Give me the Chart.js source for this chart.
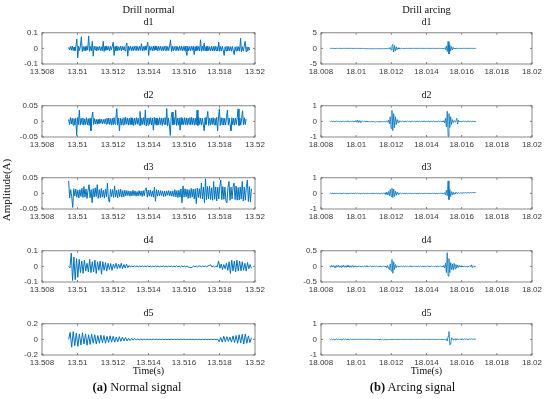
<!DOCTYPE html>
<html>
<head>
<meta charset="utf-8">
<script src="https://cdn.jsdelivr.net/npm/chart.js@4.4.1/dist/chart.umd.min.js"></script>
<style>
  body { margin: 0; width: 550px; height: 399px; background: #fff; position: relative; overflow: hidden; }
  canvas { position: absolute; }
  .txt { position: absolute; font-family: "Liberation Serif", "Times New Roman", serif; font-weight: 400; color: #111; text-align: center; white-space: nowrap; }
</style>
</head>
<body>
<script>
// time axes
const normalTicksX = [13.508, 13.51, 13.512, 13.514, 13.516, 13.518, 13.52];
const arcingTicksX = [18.008, 18.01, 18.012, 18.014, 18.016, 18.018, 18.02];
const normalYTicks = [[-0.1, 0, 0.1], [-0.05, 0, 0.05], [-0.05, 0, 0.05], [-0.1, 0, 0.1], [-0.2, 0, 0.2]];
const arcingYTicks = [[-5, 0, 5], [-1, 0, 1], [-1, 0, 1], [-0.5, 0, 0.5], [-1, 0, 1]];
const panelNames = ['d1', 'd2', 'd3', 'd4', 'd5'];

// record start / end times
const normalStart = 13.5095;
const normalEnd = [13.5197, 13.5195, 13.5198, 13.5198, 13.5198];
const arcingStart = 18.0085;
const arcingEnd = [18.0168, 18.0168, 18.0168, 18.0168, 18.0168];

// Drill normal, detail levels d1..d5 (A)
const normalD1 = [
  0.006,-0.01,0.013,-0.012,0.015,-0.014,0.009,-0.015,0.013,0.06,
  -0.06,0.014,-0.013,0.016,0.075,-0.02,0.013,-0.015,0.011,-0.014,
  0.016,-0.011,0.08,-0.018,0.012,-0.016,0.045,-0.05,0.014,-0.01,
  0.013,-0.016,0.011,-0.012,0.015,-0.014,0.01,-0.015,0.045,-0.02,
  0.014,-0.012,0.016,-0.011,0.012,-0.017,0.015,-0.01,0.013,0.04,
  -0.045,0.012,-0.014,0.016,-0.015,0.011,-0.012,0.015,-0.016,0.013,
  -0.011,0.012,-0.015,0.016,0.035,-0.05,0.014,-0.012,0.015,-0.014,
  0.011,-0.016,0.014,-0.011,0.016,-0.014,0.012,-0.015,0.014,-0.012,
  0.03,-0.016,0.012,-0.014,0.015,-0.011,0.014,0.04,-0.045,0.016,
  -0.012,0.011,-0.015,0.014,-0.014,0.016,-0.011,0.012,-0.016,0.014,
  -0.012,0.015,-0.014,0.011,-0.016,0.014,-0.012,0.016,-0.015,0.012,
  -0.014,0.015,0.055,-0.02,0.014,-0.016,0.012,-0.011,0.015,-0.014,
  0.011,-0.015,0.016,-0.012,0.014,-0.016,0.012,-0.014,0.015,-0.017,
  -0.045,0.014,-0.015,0.012,-0.016,0.014,-0.012,0.015,-0.04,0.011,
  -0.015,0.016,-0.014,0.012,-0.016,0.055,-0.018,0.014,-0.015,0.035,
  -0.016,0.012,-0.017,0.015,-0.014,0.011,-0.016,0.014,-0.015,0.012,
  -0.017,0.015,-0.014,0.011,-0.016,0.04,-0.018,0.012,-0.016,0.014,
  -0.015,-0.045,0.011,-0.016,0.014,-0.017,0.012,-0.015,0.011,-0.018,
  0.013,-0.016,-0.04,0.01,-0.017,0.012,-0.015,0.011,-0.018,0.065,
  -0.02,0.011,-0.017,0.012,0.045,-0.02,0.01,-0.016,0.009,-0.012
];
const normalD2 = [
  0.006,-0.01,0.012,-0.008,0.01,-0.012,0.009,-0.011,0.01,-0.045,
  0.012,-0.01,0.036,-0.012,0.01,-0.009,0.011,-0.012,0.008,-0.01,
  0.012,-0.011,0.009,-0.013,0.01,-0.03,0.012,0.03,-0.01,0.009,
  -0.008,0.007,-0.009,0.006,-0.007,0.008,-0.006,0.007,-0.008,0.006,
  -0.007,0.008,-0.009,0.01,-0.008,0.011,-0.01,0.009,-0.012,0.01,
  -0.011,0.012,-0.009,0.01,0.041,-0.012,0.011,-0.03,0.01,-0.012,
  0.009,-0.011,0.012,-0.01,0.013,-0.009,0.011,-0.012,0.01,-0.011,
  0.012,-0.01,0.009,-0.013,0.011,-0.01,0.012,-0.009,0.01,-0.012,
  0.032,-0.013,0.011,-0.01,0.012,-0.011,0.036,-0.014,0.01,-0.012,
  0.011,-0.009,0.012,-0.011,0.01,-0.028,0.013,-0.01,0.011,-0.012,
  0.009,-0.011,0.012,-0.01,0.011,-0.013,0.01,-0.009,0.012,-0.011,
  0.041,-0.015,0.011,-0.012,-0.045,0.013,0.03,-0.011,0.012,-0.01,
  0.036,-0.013,0.01,-0.012,0.011,-0.028,0.012,-0.01,0.009,-0.011,
  0.012,-0.01,0.011,-0.012,0.01,-0.009,0.012,-0.011,0.013,-0.01,
  0.011,-0.012,0.01,-0.011,0.036,-0.013,0.012,-0.01,0.011,-0.012,
  0.01,-0.011,-0.03,0.012,-0.01,0.011,0.032,-0.013,0.01,-0.012,
  0.011,-0.01,0.012,-0.011,0.01,-0.012,0.013,-0.03,0.011,0.04,
  -0.013,0.012,-0.01,0.011,-0.012,0.01,-0.011,0.012,0.036,-0.012,
  0.011,-0.01,-0.03,0.012,-0.011,0.01,-0.012,0.011,-0.01,0.012,
  0.04,-0.013,0.011,-0.012,0.01,0.034,-0.011,0.012,-0.01,0.008
];
const normalD3 = [
  0.04,-0.015,0.012,-0.01,-0.045,0.015,-0.008,0.014,-0.012,0.01,
  -0.015,0.012,-0.01,0.016,-0.013,0.022,-0.012,0.014,-0.016,0.01,
  0.028,-0.014,0.012,-0.03,0.015,-0.012,0.018,-0.01,0.028,-0.016,
  0.012,-0.014,0.016,-0.012,0.01,-0.015,0.013,-0.011,0.033,-0.02,
  -0.028,0.014,-0.01,0.012,-0.013,0.024,-0.012,0.01,-0.014,0.012,
  -0.01,0.013,-0.012,0.009,-0.011,0.01,-0.008,0.009,-0.007,0.008,
  -0.009,0.007,-0.008,0.01,-0.007,0.008,-0.009,0.006,-0.008,0.009,
  -0.007,0.008,-0.01,0.009,-0.008,0.012,0.018,-0.012,0.01,-0.009,
  0.011,-0.01,0.008,-0.012,0.02,-0.025,0.012,-0.009,0.01,-0.008,
  0.009,-0.007,0.008,-0.01,0.007,-0.009,0.008,-0.006,0.009,-0.008,
  0.007,-0.009,0.008,-0.01,0.012,-0.011,0.009,-0.013,0.01,-0.012,
  0.014,-0.03,0.024,-0.012,0.015,-0.011,0.013,-0.016,0.012,-0.014,
  0.016,-0.012,0.014,-0.018,0.015,-0.033,0.017,-0.013,0.015,-0.016,
  0.033,-0.018,0.02,-0.03,0.047,-0.02,0.022,-0.018,0.024,-0.02,
  0.018,-0.022,0.038,-0.019,0.021,-0.024,0.02,-0.018,0.023,0.043,
  -0.02,0.022,-0.019,0.02,-0.024,-0.03,0.018,0.038,-0.022,0.02,
  -0.018,0.021,0.033,-0.02,0.024,-0.022,0.019,-0.021,0.02,-0.018,
  0.038,-0.024,0.02,-0.022,0.019,0.043,-0.026,0.022,-0.028,0.015
];
const normalD4 = [
  0,-0.01,0.085,-0.09,0.06,-0.085,0.05,-0.07,0.045,-0.04,
  0.035,-0.045,0.04,-0.03,0.02,-0.035,0.045,-0.04,0.03,-0.035,
  0.04,-0.045,0.03,-0.025,0.035,-0.05,0.03,-0.025,0.025,-0.03,
  0.02,-0.02,0.018,-0.025,0.015,-0.012,0.02,-0.015,0.015,-0.012,
  0.02,-0.015,0.012,-0.01,0.015,-0.008,0.006,-0.004,0.003,-0.003,
  0.004,-0.002,0.003,-0.003,0.002,-0.003,0.004,-0.002,0.003,-0.004,
  0.005,-0.004,0.003,-0.003,0.002,-0.002,0.003,-0.002,0.002,-0.003,
  0.002,-0.002,0.003,-0.002,0.002,-0.003,0.002,-0.002,0.003,-0.002,
  0.002,-0.003,0.004,-0.002,0.002,-0.004,0.003,-0.002,0.002,-0.003,
  0.003,-0.004,-0.006,-0.008,-0.005,0.003,-0.002,0.002,-0.004,0.003,
  0.002,-0.002,0.003,-0.002,0.002,-0.003,0.004,0.006,0.01,-0.004,
  0.003,-0.005,0.004,-0.003,0.035,-0.012,0.015,-0.02,0.012,-0.015,
  0.02,-0.025,0.03,-0.045,0.04,-0.03,0.035,-0.035,0.04,-0.03,
  0.035,-0.028,0.03,-0.025,0.02,-0.03,0.025,-0.015,0.012,-0.012
];
const normalD5 = [
  0,0.09,-0.1,0.1,-0.08,0.08,-0.09,0.07,-0.07,0.085,
  -0.06,0.07,-0.075,0.06,-0.065,0.07,-0.05,0.06,-0.06,0.05,
  -0.05,0.055,-0.045,0.05,-0.05,0.04,-0.04,0.045,-0.035,0.04,
  -0.035,0.03,-0.03,0.035,-0.025,0.03,-0.02,0.025,-0.02,0.015,
  -0.015,0.012,-0.01,0.012,-0.008,0.006,-0.006,0.005,-0.004,0.004,
  -0.003,0.004,-0.003,0.003,-0.004,0.003,-0.002,0.003,-0.003,0.002,
  -0.002,0.003,-0.002,0.002,-0.003,0.002,-0.002,0.003,-0.002,0.002,
  -0.002,0.002,-0.003,0.002,-0.002,0.003,-0.002,0.002,-0.002,0.003,
  -0.002,0.002,-0.003,0.002,-0.002,0.002,-0.003,0.002,-0.002,0.003,
  -0.002,0.002,-0.002,0.003,-0.002,0.002,-0.004,0.003,-0.03,0.025,
  -0.035,0.04,-0.03,0.035,-0.025,0.03,-0.035,0.045,-0.04,0.05,
  -0.05,0.06,-0.045,0.065,-0.06,0.07,-0.05,0.045,-0.04,0.02
];

// Drill arcing, detail levels d1..d5 (A)
const arcingD1 = [
  0.02,-0.02,0.03,-0.01,0.02,-0.03,0.01,-0.02,0.03,-0.02,
  0.02,-0.01,0.03,-0.02,0.01,-0.03,0.02,-0.01,0.02,-0.02,
  0.01,-0.02,0.03,-0.01,0.02,-0.02,0.01,-0.03,0.02,-0.01,
  0.03,-0.04,0.02,-0.03,0.01,-0.02,0.02,-0.03,0.01,-0.02,
  -0.05,-0.08,-0.06,-0.1,-0.08,-0.12,-0.09,-0.11,-0.1,-0.12,
  -0.09,-0.11,-0.1,-0.12,-0.09,-0.1,-0.11,-0.08,-0.1,-0.12,
  -0.09,-0.1,-0.08,-0.06,-0.05,-0.08,-0.04,-0.1,0.1,-0.2,
  0.3,-0.5,0.8,1.3,-1.2,0.9,-0.8,0.5,-0.4,0.2,
  -0.2,0.1,-0.1,0.05,-0.05,0.03,-0.03,0.02,-0.02,0.03,
  -0.02,0.02,-0.03,0.01,-0.02,0.02,-0.01,0.03,-0.02,0.01,
  -0.02,0.02,-0.01,0.02,-0.03,0.01,-0.02,0.02,-0.01,0.03,
  -0.02,0.01,-0.02,0.02,-0.01,0.02,-0.02,0.01,-0.03,0.02,
  -0.01,0.02,-0.02,0.01,-0.02,0.03,-0.01,0.02,-0.02,0.01,
  -0.03,0.05,-0.1,0.2,-0.4,0.8,-1.0,2.2,-1.8,1.2,
  -0.9,0.6,-0.5,0.3,-0.2,0.1,-0.1,0.05,-0.05,0.03,
  -0.02,0.02,-0.03,0.01,-0.02,0.02,-0.01,0.03,-0.02,0.01,
  -0.02,0.02,-0.01,0.02,-0.02,0.01,-0.02,0.02,-0.01,0
];
const arcingD2 = [
  0.01,-0.01,0.02,-0.01,0.01,-0.02,0.01,-0.01,0.02,-0.01,
  0.01,-0.02,0.01,-0.01,0.02,-0.01,0.01,-0.02,0.01,-0.01,
  0.02,-0.01,0.01,-0.02,0.01,-0.01,0.02,-0.01,0.03,-0.03,
  0.06,-0.05,0.08,-0.07,0.06,-0.06,0.04,-0.03,0.02,-0.02,
  0.01,-0.02,0.01,-0.03,0,-0.02,-0.01,-0.03,0,-0.02,
  -0.03,-0.01,-0.02,-0.04,-0.01,-0.02,-0.03,-0.01,-0.03,-0.02,
  -0.01,-0.03,-0.02,0,-0.03,-0.01,0.02,-0.05,0.08,-0.15,
  0.3,-0.45,0.7,-0.6,0.5,-0.4,0.3,-0.2,0.12,-0.08,
  0.05,-0.04,0.03,-0.02,0.02,-0.01,0.01,-0.02,0.01,-0.01,
  0.02,-0.01,0.01,-0.02,0.01,-0.01,0.02,-0.01,0.01,-0.02,
  0.01,-0.01,0.02,-0.01,0.01,-0.02,0.01,-0.01,0.02,-0.01,
  0.01,-0.02,0.01,-0.01,0.02,-0.01,0.01,-0.02,0.01,-0.01,
  0.02,-0.01,0.01,-0.02,0.01,-0.01,0.02,-0.01,0.01,-0.02,
  0.02,-0.03,0.05,-0.1,0.2,-0.35,0.65,-0.95,0.5,-0.4,
  0.3,-0.2,0.12,-0.08,0.05,-0.03,0.02,0.2,-0.17,0.08,
  -0.04,0.02,-0.02,0.01,-0.01,0.02,-0.01,0.01,-0.02,0.01,
  -0.01,0.02,-0.01,0.01,-0.02,0.01,-0.01,0.01,-0.02,0
];
const arcingD3 = [
  0,0.01,-0.01,0.01,-0.01,0,0.01,-0.01,0.01,-0.01,
  0,0.01,-0.01,0.01,-0.01,0,0.01,-0.01,0.01,-0.01,
  0.01,-0.01,0,0.01,-0.01,0.01,-0.01,0,0.01,-0.01,
  0.02,-0.02,0.03,-0.02,0.01,-0.01,0.01,-0.01,0,0.01,
  -0.01,0.01,-0.01,0,0.01,-0.01,0.01,-0.01,0,0.01,
  -0.01,0.01,-0.01,0,0.01,-0.01,0.01,-0.02,0,-0.01,
  0.01,-0.02,0.02,-0.03,0.04,-0.06,0.08,-0.1,0.12,-0.15,
  0.25,-0.2,0.33,-0.26,0.28,-0.2,0.15,-0.12,0.08,-0.06,
  0.04,-0.03,0.02,-0.02,0.01,-0.01,0.01,-0.01,0,0.01,
  -0.01,0.01,-0.01,0,0.01,-0.01,0.01,-0.01,0,0.01,
  -0.01,0.01,-0.01,0,0.01,-0.01,0.01,-0.01,0,0.01,
  -0.01,0.01,-0.01,0,0.01,-0.01,0.01,-0.01,0,0.01,
  -0.01,0.01,-0.01,0,0.01,-0.01,0.01,-0.01,0,0.01,
  -0.01,0.02,-0.03,0.05,-0.1,0.2,-0.15,0.8,-0.4,0.25,
  -0.2,0.12,-0.1,0.08,-0.06,0.05,0,0.06,-0.02,0.05,
  0,0.04,0.01,0.05,0.02,0.04,0.03,0.05,0.02,0.04,
  0.03,0.06,0.03,0.05,0.04,0.06,0.04,0.05,0.06,0.05
];
const arcingD4 = [
  0.02,-0.03,0.03,-0.02,0.03,-0.03,0.02,-0.04,0.03,-0.02,
  0.04,-0.03,0.02,-0.03,0.03,-0.02,0.04,-0.03,0.02,-0.03,
  0.03,-0.02,0.03,-0.03,0.02,-0.03,0.03,-0.02,0.02,-0.02,
  0.02,-0.02,0.01,-0.02,0.02,-0.01,0.01,-0.02,0.01,-0.01,
  0.01,-0.01,0.02,-0.01,0.01,-0.01,0,0.01,-0.01,0.01,
  -0.01,0,0.01,-0.01,0.01,-0.01,0,0.01,-0.01,0.01,
  -0.01,0,0.01,-0.01,0.01,-0.02,-0.04,0.03,-0.06,-0.1,
  0.08,-0.15,0.22,-0.22,0.15,-0.1,0.06,-0.04,0.02,-0.01,
  0.01,-0.01,0,0.01,-0.01,0.01,-0.01,0,0.01,-0.01,
  0.01,-0.01,0,0.01,-0.01,0.01,-0.01,0,0.01,-0.01,
  0.01,-0.01,0,0.01,-0.01,0.01,-0.01,0,0.01,-0.01,
  0.01,-0.01,0,0.01,-0.01,0.01,-0.01,0,0.01,-0.01,
  0.01,-0.01,0,0.01,-0.01,0.01,-0.01,0,0.01,-0.01,
  0.01,-0.02,0.03,-0.05,0.1,-0.2,0.44,-0.31,0.25,-0.2,
  0.12,-0.1,0.08,-0.12,0.1,-0.08,0.06,-0.05,0.04,-0.03,
  0.03,-0.02,0.02,-0.02,0.01,-0.02,0.01,-0.01,0.01,-0.02,
  0.01,-0.01,0.02,-0.01,0.05,-0.04,0.02,-0.01,0.01,0
];
const arcingD5 = [
  0.02,-0.02,0.03,-0.02,0.02,-0.03,0.02,-0.02,0.03,-0.02,
  0.02,-0.02,0.02,-0.03,0.02,-0.02,0.03,-0.02,0.02,-0.02,
  0.02,-0.02,0.01,-0.02,0.02,-0.01,0.01,-0.01,0.01,-0.01,
  0.01,0,0.01,0,0.01,0,0.01,0,0.01,0,
  0.01,0,0.01,0,0,0.01,0,0,0.01,0,
  0,-0.01,0,-0.01,0,-0.01,-0.02,0.01,-0.03,0.01,
  -0.03,0.02,-0.03,0.01,-0.03,0.01,-0.02,0,-0.02,0,
  -0.01,0,-0.01,0,-0.01,0,0,0,-0.01,0,
  0,-0.005,0,0.005,0,-0.005,0,0.005,0,-0.005,
  0,0.005,0,-0.005,0,0.005,0,-0.005,0,0.005,
  0,-0.005,0,0.005,0,-0.005,0,0.005,0,-0.005,
  0,0.005,0,-0.005,0,0.005,0,-0.005,0,0.005,
  0,-0.005,0,0.005,0,-0.005,0,0.005,0,-0.005,
  0,0,-0.01,0,-0.02,0.03,-0.1,0.2,0.5,-0.35,
  -0.3,0.1,0.06,-0.05,0.04,-0.03,0.05,-0.04,0.03,-0.02,
  0.04,-0.02,0.03,-0.01,0.04,-0.02,0.03,0,0.04,-0.01,
  0.03,0,0.04,0.01,0.03,0,0.04,0.01,0.03,0.02
];

const normalSeries = [normalD1, normalD2, normalD3, normalD4, normalD5];
const arcingSeries = [arcingD1, arcingD2, arcingD3, arcingD4, arcingD5];

// layout of the subplot boxes (page pixels)
const rowTops = [29, 102, 174, 247, 320];
const boxH = 35;
const cols = [
  { canvasLeft: 0, boxLeft: 42, boxRight: 255, lineW: 1.0 },
  { canvasLeft: 275, boxLeft: 321, boxRight: 532, lineW: 0.8 }
];
const lineColor = '#0072BD';

// MATLAB style box with inward ticks
const boxPlugin = {
  id: 'box',
  afterDatasetsDraw(chart) {
    const { ctx, chartArea: a, scales } = chart;
    ctx.save();
    ctx.strokeStyle = '#6b6b6b';
    ctx.lineWidth = 0.8;
    ctx.strokeRect(a.left, a.top, a.right - a.left, a.bottom - a.top);
    ctx.beginPath();
    scales.x.ticks.forEach(t => {
      const px = scales.x.getPixelForValue(t.value);
      ctx.moveTo(px, a.bottom); ctx.lineTo(px, a.bottom - 2);
      ctx.moveTo(px, a.top); ctx.lineTo(px, a.top + 2);
    });
    scales.y.ticks.forEach(t => {
      const py = scales.y.getPixelForValue(t.value);
      ctx.moveTo(a.left, py); ctx.lineTo(a.left + 2, py);
      ctx.moveTo(a.right, py); ctx.lineTo(a.right - 2, py);
    });
    ctx.stroke();
    ctx.restore();
  }
};

function addText(str, left, top, width, size, extra) {
  const d = document.createElement('div');
  d.className = 'txt';
  d.style.left = left + 'px';
  d.style.top = top + 'px';
  d.style.width = width + 'px';
  d.style.fontSize = size + 'px';
  d.style.lineHeight = Math.round(size * 1.2) + 'px';
  if (extra) Object.assign(d.style, extra);
  d.innerHTML = str;
  document.body.appendChild(d);
  return d;
}

function makePanel(colIdx, row, values, t0, t1, xTicks, yTicks) {
  const col = cols[colIdx];
  const padTop = 5, xAxisH = 14;
  const cv = document.createElement('canvas');
  cv.width = 275;
  cv.height = boxH + padTop + xAxisH;
  cv.style.left = col.canvasLeft + 'px';
  cv.style.top = (rowTops[row] - padTop) + 'px';
  document.body.appendChild(cv);

  const n = values.length;
  const pts = values.map((v, i) => ({ x: t0 + (t1 - t0) * i / (n - 1), y: v }));
  const tickFont = { family: '"Liberation Sans", Arial, sans-serif', size: 8 };

  new Chart(cv.getContext('2d'), {
    type: 'line',
    data: {
      datasets: [{
        data: pts,
        borderColor: lineColor,
        borderWidth: col.lineW,
        pointRadius: 0,
        tension: 0,
        fill: false
      }]
    },
    options: {
      responsive: false,
      animation: false,
      events: [],
      layout: { padding: { left: 0, top: padTop, right: col.canvasLeft + 275 - col.boxRight, bottom: 0 } },
      plugins: { legend: { display: false }, tooltip: { enabled: false } },
      scales: {
        x: {
          type: 'linear',
          min: xTicks[0],
          max: xTicks[xTicks.length - 1],
          grid: { display: false, drawTicks: false },
          border: { display: false },
          afterBuildTicks: s => { s.ticks = xTicks.map(v => ({ value: v })); },
          afterFit: s => { s.height = xAxisH; },
          ticks: {
            autoSkip: false, maxRotation: 0, padding: 3,
            color: '#3a3a3a', font: tickFont,
            callback: v => String(v)
          }
        },
        y: {
          min: yTicks[0],
          max: yTicks[yTicks.length - 1],
          grid: { display: false, drawTicks: false },
          border: { display: false },
          afterBuildTicks: s => { s.ticks = yTicks.map(v => ({ value: v })); },
          afterFit: s => { s.width = col.boxLeft - col.canvasLeft; },
          ticks: {
            padding: 4, color: '#3a3a3a', font: tickFont,
            callback: v => String(v)
          }
        }
      }
    },
    plugins: [boxPlugin]
  });

  addText(panelNames[row], col.boxLeft, rowTops[row] - 13, col.boxRight - col.boxLeft, 10);
}

for (let r = 0; r < 5; r++) {
  makePanel(0, r, normalSeries[r], normalStart, normalEnd[r], normalTicksX, normalYTicks[r]);
  makePanel(1, r, arcingSeries[r], arcingStart, arcingEnd[r], arcingTicksX, arcingYTicks[r]);
}

// column titles, axis labels, captions
addText('Drill normal', 42, 3, 213, 10.5);
addText('Drill arcing', 321, 3, 211, 10.5);
addText('Time(s)', 42, 365, 213, 10);
addText('Time(s)', 321, 365, 211, 10);
addText('Amplitude(A)', -44, 184, 100, 11, { height: '12px', lineHeight: '12px', transform: 'rotate(-90deg)' });
addText('<b>(a)</b> Normal signal', 42, 380, 190, 12.5);
addText('<b>(b)</b> Arcing signal', 321, 380, 183, 12.5);
</script>
</body>
</html>
